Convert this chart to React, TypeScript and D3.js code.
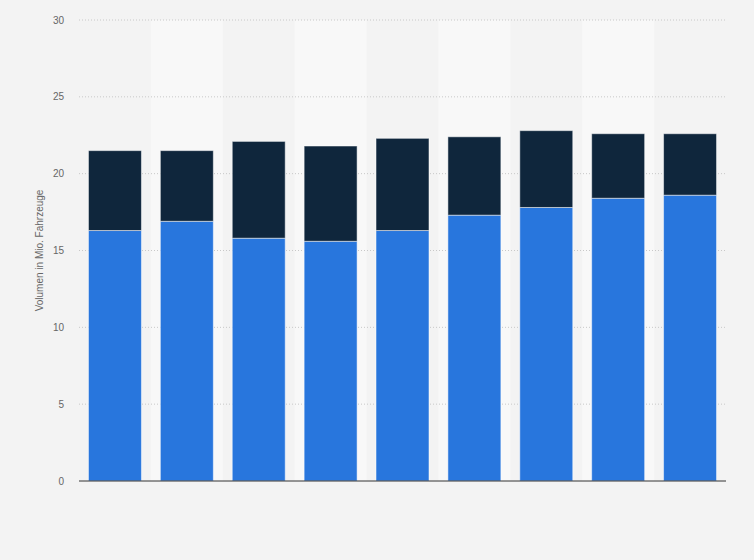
import React, { useEffect, useRef } from 'react';
import * as d3 from 'd3';

const categories = ['1', '2', '3', '4', '5', '6', '7', '8', '9'];
const lowerValues = [16.3, 16.9, 15.8, 15.6, 16.3, 17.3, 17.8, 18.4, 18.6];
const upperValues = [5.2, 4.6, 6.3, 6.2, 6.0, 5.1, 5.0, 4.2, 4.0];
const yTicks = [0, 5, 10, 15, 20, 25, 30];
const yLabel = 'Volumen in Mio. Fahrzeuge';

const WIDTH = 754;
const HEIGHT = 560;
const margin = { top: 20, right: 28, bottom: 79, left: 79 };

const App: React.FC = () => {
  const svgRef = useRef<SVGSVGElement>(null);

  useEffect(() => {
    document.body.style.margin = '0';
    if (!svgRef.current) return;
    const svg = d3.select(svgRef.current);
    svg.selectAll('*').remove();

    const x = d3.scaleBand<string>()
      .domain(categories)
      .range([margin.left, WIDTH - margin.right])
      .paddingInner(0.263)
      .paddingOuter(0.1315);
    const y = d3.scaleLinear().domain([0, 30]).range([HEIGHT - margin.bottom, margin.top]);

    svg.append('rect').attr('width', WIDTH).attr('height', HEIGHT).attr('fill', '#f3f3f3');

    // lighter alternating column bands
    const step = x.step();
    categories.forEach((c, i) => {
      if (i % 2 === 1) {
        svg.append('rect')
          .attr('x', x(c)! - (step * x.paddingInner()) / 2)
          .attr('y', y(30))
          .attr('width', step)
          .attr('height', y(0) - y(30))
          .attr('fill', '#f8f8f8');
      }
    });

    // grid + tick labels
    yTicks.forEach(t => {
      if (t > 0) {
        svg.append('line')
          .attr('x1', margin.left).attr('x2', WIDTH - margin.right)
          .attr('y1', y(t)).attr('y2', y(t))
          .attr('stroke', '#c8c8c8').attr('stroke-width', 1)
          .attr('stroke-dasharray', '1,2');
      }
      svg.append('text')
        .attr('x', 64).attr('y', y(t)).attr('dy', '0.35em')
        .attr('text-anchor', 'end')
        .attr('font-family', 'Liberation Sans, Arial, sans-serif')
        .attr('font-size', 10).attr('fill', '#666')
        .text(t);
    });

    const stacked = categories.map((c, i) => ({ c, lo: lowerValues[i], hi: upperValues[i] }));

    stacked.forEach(d => {
      svg.append('rect')
        .attr('x', x(d.c)!)
        .attr('y', y(d.lo))
        .attr('width', x.bandwidth())
        .attr('height', y(0) - y(d.lo))
        .attr('fill', '#2876dd')
        .attr('stroke', '#ffffff').attr('stroke-opacity', 0.5).attr('stroke-width', 1);
      svg.append('rect')
        .attr('x', x(d.c)!)
        .attr('y', y(d.lo + d.hi))
        .attr('width', x.bandwidth())
        .attr('height', y(d.lo) - y(d.lo + d.hi))
        .attr('fill', '#0f263c')
        .attr('stroke', '#ffffff').attr('stroke-opacity', 0.5).attr('stroke-width', 1);
    });

    // baseline
    svg.append('line')
      .attr('x1', margin.left).attr('x2', WIDTH - margin.right)
      .attr('y1', y(0)).attr('y2', y(0))
      .attr('stroke', '#333').attr('stroke-width', 1);

    svg.append('text')
      .attr('transform', `translate(43,${(y(0) + y(30)) / 2}) rotate(-90)`)
      .attr('text-anchor', 'middle')
      .attr('font-family', 'Liberation Sans, Arial, sans-serif')
      .attr('font-size', 10).attr('fill', '#666')
      .text(yLabel);
  }, []);

  return <svg ref={svgRef} width={WIDTH} height={HEIGHT} style={{ display: 'block' }} />;
};

export default App;
